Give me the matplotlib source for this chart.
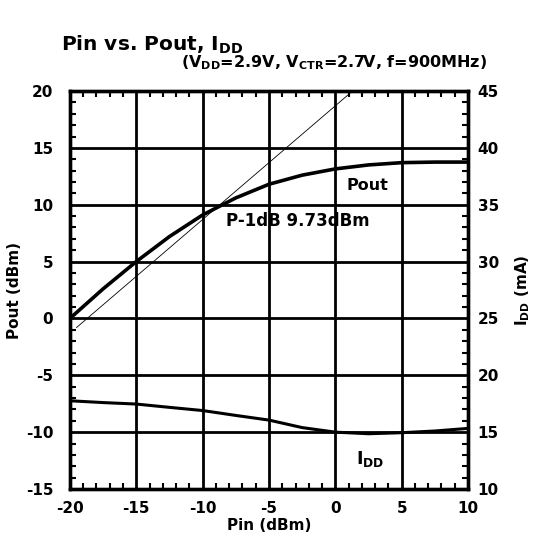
import matplotlib
matplotlib.use("Agg")
from matplotlib import pyplot as plt
from matplotlib.ticker import MultipleLocator

plt.rcParams['font.family'] = 'DejaVu Sans'
plt.rcParams['font.weight'] = 'bold'
plt.rcParams['axes.labelweight'] = 'bold'
plt.rcParams['axes.unicode_minus'] = False
plt.rcParams['mathtext.fontset'] = 'custom'
plt.rcParams['mathtext.rm'] = 'DejaVu Sans:bold'
plt.rcParams['mathtext.it'] = 'DejaVu Sans:bold'
plt.rcParams['mathtext.bf'] = 'DejaVu Sans:bold'

# Pout vs Pin (dBm)
pin = [-20, -17.5, -15, -12.5, -10, -7.5, -5, -2.5, 0, 2.5, 5, 7.5, 10]
pout = [0, 2.6, 5.0, 7.2, 9.1, 10.6, 11.8, 12.6, 13.15, 13.5, 13.7, 13.75, 13.75]
# linear gain reference line
lin_pin = [-19.5, 1.3]
lin_pout = [-0.8, 20]
# supply current (mA)
idd = [17.76, 17.6, 17.47, 17.18, 16.9, 16.47, 16.06, 15.4, 15.0, 14.86, 14.95, 15.1, 15.33]

fig = plt.figure(figsize=(5.42, 5.46), dpi=100)
ax = fig.add_axes([0.129, 0.1044, 0.7345, 0.7289])
ax2 = ax.twinx()

ax.plot(lin_pin, lin_pout, color='black', lw=0.6)
ax.plot(pin, pout, color='black', lw=2.6)
ax2.plot(pin, idd, color='black', lw=2.2)

ax.set_xlim(-20, 10)
ax.set_ylim(-15, 20)
ax2.set_ylim(10, 45)
ax.xaxis.set_major_locator(MultipleLocator(5))
ax.xaxis.set_minor_locator(MultipleLocator(1))
ax.yaxis.set_major_locator(MultipleLocator(5))
ax.yaxis.set_minor_locator(MultipleLocator(1))
ax2.yaxis.set_major_locator(MultipleLocator(5))
ax2.yaxis.set_minor_locator(MultipleLocator(1))

ax.grid(True, which='major', color='black', lw=2.0)
for a in (ax, ax2):
    for s in a.spines.values():
        s.set_linewidth(2.4)
ax.tick_params(which='both', direction='in', top=True, width=1.5, labelsize=11)
ax.tick_params(axis='x', pad=9)
ax.tick_params(axis='y', pad=12)
ax.tick_params(which='major', length=0)
ax.tick_params(which='minor', length=4)
ax2.tick_params(which='both', direction='in', width=1.5, labelsize=11, pad=7)
ax2.tick_params(which='major', length=0)
ax2.tick_params(which='minor', length=4)

ax.set_xlabel('Pin (dBm)', fontsize=11, labelpad=1)
ax.set_ylabel('Pout (dBm)', fontsize=11, labelpad=3)
ax2.set_ylabel('I$_{\\mathrm{DD}}$ (mA)', fontsize=11, labelpad=10)

ax.text(2.4, 11.7, 'Pout', fontsize=11.5, ha='center', va='center')
ax.text(-2.8, 8.6, 'P-1dB 9.73dBm', fontsize=12, ha='center', va='center')
ax.text(2.6, -12.4, 'I$_{\\mathrm{DD}}$', fontsize=12.5, ha='center', va='center')

fig.text(0.113, 0.918, 'Pin vs. Pout, I$_{\\mathrm{DD}}$', fontsize=14.5, ha='left', va='center')
fig.text(0.899, 0.885, '(V$_{\\mathrm{DD}}$=2.9V, V$_{\\mathrm{CTR}}$=2.7V, f=900MHz)',
         fontsize=11.5, ha='right', va='center')

fig.savefig('out.png', dpi=100)
